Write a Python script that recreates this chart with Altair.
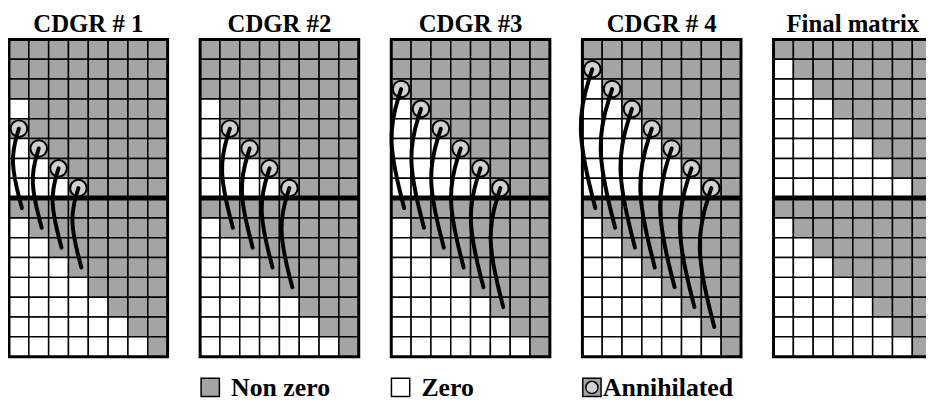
import altair as alt
import pandas as pd

# ---------------- data ----------------
TITLES = ["CDGR # 1", "CDGR #2", "CDGR #3", "CDGR # 4", "Final matrix"]
N_COLS = 8
# number of zero (white) cells at the left of each row, top half (rows 0-7)
TOP_ZEROS = [
    [0, 0, 0, 1, 0, 1, 2, 3],
    [0, 0, 0, 1, 1, 2, 3, 4],
    [0, 0, 0, 1, 2, 3, 4, 5],
    [0, 0, 1, 2, 3, 4, 5, 6],
    [0, 1, 2, 3, 4, 5, 6, 7],
]
# bottom half (rows 8-15), identical in every panel
BOTTOM_ZEROS = [0, 1, 2, 3, 4, 5, 6, 7]
# annihilated cells (row, col) per panel
ANNIH_ROWS = [[4, 5, 6, 7], [4, 5, 6, 7], [2, 3, 4, 5, 6, 7], [1, 2, 3, 4, 5, 6, 7], []]
ANNIH_COLS = [[0, 1, 2, 3], [1, 2, 3, 4], [0, 1, 2, 3, 4, 5], [0, 1, 2, 3, 4, 5, 6], []]
LEGEND_LABELS = ["Non zero", "Zero", "Annihilated"]

# ---------------- layout / style ----------------
W, H = 926, 396
UNIT = 20.0
PANEL_X0 = 0.05
PANEL_STEP = 9.64
GRID_TOP = 1.5
HALF = 8
GRAY = "#a4a4a4"
CIRCLE_FILL = "#d0d0d0"
FONT = "Liberation Serif"
BULGE = 0.14
END_SHIFT = 0.15
TITLE_Y = 1.12

xs = alt.Scale(domain=[0, W / UNIT], nice=False, zero=False)
ys = alt.Scale(domain=[0, H / UNIT], nice=False, zero=False, reverse=True)

cells, borders, mids, circles, curves, titles = [], [], [], [], [], []
for p, title in enumerate(TITLES):
    x0 = PANEL_X0 + p * PANEL_STEP
    zeros = TOP_ZEROS[p] + BOTTOM_ZEROS
    ann = set(zip(ANNIH_ROWS[p], ANNIH_COLS[p]))
    for r, z in enumerate(zeros):
        for c in range(N_COLS):
            status = "Zero" if c < z and (r, c) not in ann else "Non zero"
            cells.append(dict(x=x0 + c, x2=x0 + c + 1, y=GRID_TOP + r, y2=GRID_TOP + r + 1, s=status))
    nrows = len(zeros)
    borders.append(dict(x=x0, x2=x0 + N_COLS, y=GRID_TOP, y2=GRID_TOP + nrows))
    mids.append(dict(x=x0, x2=x0 + N_COLS, y=GRID_TOP + HALF))
    titles.append(dict(x=x0 + N_COLS / 2, y=TITLE_Y, t=title))
    for r, c in zip(ANNIH_ROWS[p], ANNIH_COLS[p]):
        cx, cy = x0 + c + 0.5, GRID_TOP + r + 0.5
        ex, ey = cx + END_SHIFT, GRID_TOP + HALF + c + 0.5
        length = (HALF + c) - r
        cid = f"{p}-{r}-{c}"
        circles.append(dict(x=cx, y=cy))
        curves.append(dict(id=cid, o=0, x=cx, y=cy))
        curves.append(dict(id=cid, o=1, x=(cx + ex) / 2 - BULGE * length, y=(cy + ey) / 2 - 0.1 * length))
        curves.append(dict(id=cid, o=2, x=ex, y=ey))

cells = pd.DataFrame(cells)
borders = pd.DataFrame(borders)
mids = pd.DataFrame(mids)
circles = pd.DataFrame(circles)
curves = pd.DataFrame(curves)
titles = pd.DataFrame(titles)

X = lambda f="x": alt.X(f"{f}:Q", scale=xs, axis=None)
Y = lambda f="y": alt.Y(f"{f}:Q", scale=ys, axis=None)

cell_layer = alt.Chart(cells).mark_rect(stroke="black", strokeWidth=1.5, clip=True).encode(
    x=X(), x2="x2:Q", y=Y(), y2="y2:Q",
    fill=alt.Fill("s:N", scale=alt.Scale(domain=["Non zero", "Zero"], range=[GRAY, "white"]), legend=None),
)
border_layer = alt.Chart(borders).mark_rect(fillOpacity=0, stroke="black", strokeWidth=3, clip=True).encode(
    x=X(), x2="x2:Q", y=Y(), y2="y2:Q"
)
mid_layer = alt.Chart(mids).mark_rule(color="black", strokeWidth=5, clip=True).encode(
    x=X(), x2="x2:Q", y=Y()
)
circle_layer = alt.Chart(circles).mark_point(
    shape="circle", filled=True, fill=CIRCLE_FILL, stroke="black", strokeWidth=2, size=280, opacity=1
).encode(x=X(), y=Y())
curve_layer = alt.Chart(curves).mark_line(
    interpolate="basis", color="black", strokeWidth=4, strokeCap="round"
).encode(x=X(), y=Y(), detail="id:N", order="o:Q")
title_layer = alt.Chart(titles).mark_text(
    font=FONT, fontWeight="bold", fontSize=25, align="center", baseline="alphabetic", color="black"
).encode(x=X(), y=Y(), text="t:N")

# legend
LEG_Y = 19.05
LEG_SYM_X = [10.2, 19.8, 29.45]
LEG_TXT_X = [11.25, 20.85, 30.0]
leg = pd.DataFrame(dict(label=LEGEND_LABELS, sx=LEG_SYM_X, tx=LEG_TXT_X, y=[LEG_Y] * 3,
                        fill=[GRAY, "white", GRAY]))
leg_sq = alt.Chart(leg).mark_point(
    shape="square", filled=True, stroke="black", strokeWidth=1.5, size=340, opacity=1
).encode(x=X("sx"), y=Y(), fill=alt.Fill("fill:N", scale=None))
leg_circ = alt.Chart(leg[leg.label == "Annihilated"]).mark_point(
    shape="circle", filled=True, fill=CIRCLE_FILL, stroke="black", strokeWidth=1.5, size=150, opacity=1
).encode(x=X("sx"), y=Y())
leg_txt = alt.Chart(leg).mark_text(
    font=FONT, fontWeight="bold", fontSize=26, align="left", baseline="middle", color="black", dy=1
).encode(x=X("tx"), y=Y(), text="label:N")

chart = alt.layer(
    cell_layer, border_layer, mid_layer, circle_layer, curve_layer, title_layer, leg_sq, leg_circ, leg_txt
).properties(
    width=W, height=H, padding=0, autosize=alt.AutoSizeParams(type="none")
).configure_view(stroke=None)

chart.save("out.html", embed_options={"renderer": "svg", "actions": False})
